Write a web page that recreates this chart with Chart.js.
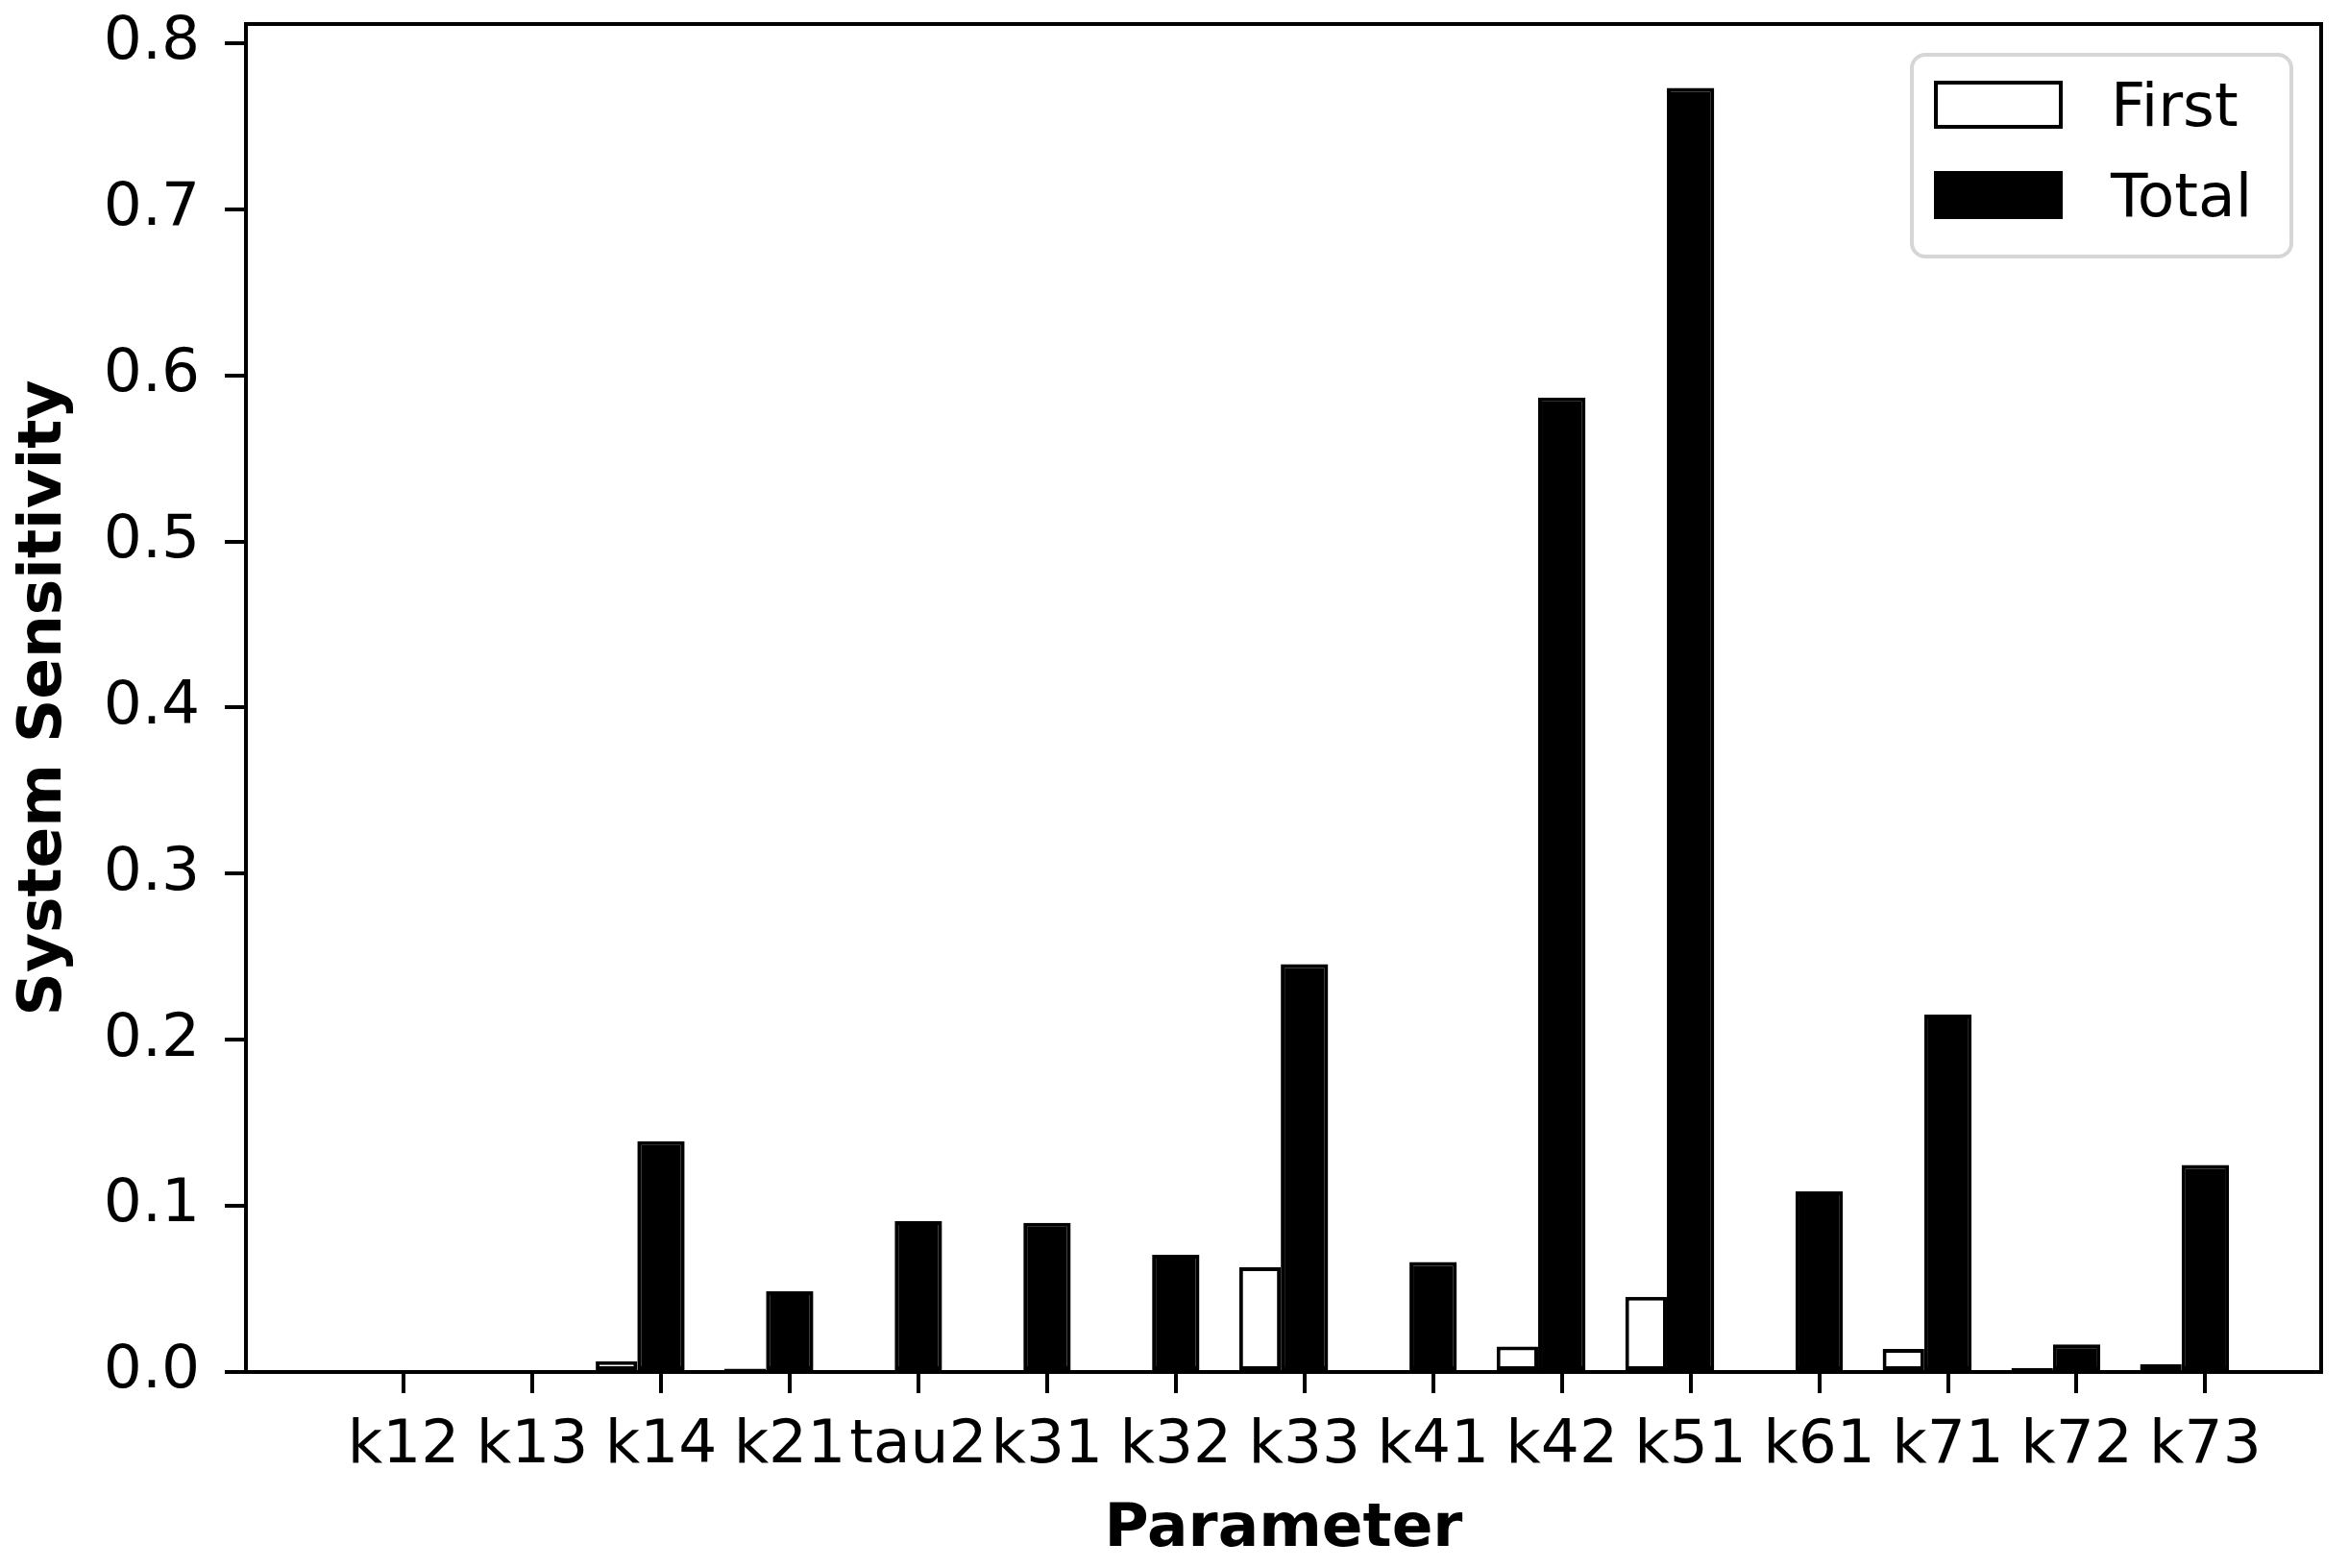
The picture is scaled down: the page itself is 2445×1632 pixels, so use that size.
<!DOCTYPE html>
<html>
<head>
<meta charset="utf-8">
<title>System Sensitivity</title>
<script src="https://cdn.jsdelivr.net/npm/chart.js@4.4.1/dist/chart.umd.min.js"></script>
<style>
  html, body { margin: 0; padding: 0; background: #fff; }
  #wrap { width: 2445px; height: 1632px; position: relative; }
</style>
</head>
<body>
<div id="wrap"><canvas id="sensChart"></canvas></div>
<script>
// data
const params = ['k12', 'k13', 'k14', 'k21', 'tau2', 'k31', 'k32', 'k33', 'k41', 'k42', 'k51', 'k61', 'k71', 'k72', 'k73'];
const firstOrder = [0.0003, 0.0003, 0.0065, 0.002, 0.001, 0.0012, 0.0003, 0.063, 0.0002, 0.0154, 0.0453, 0.0002, 0.0139, 0.0025, 0.0048];
const totalOrder = [0.0005, 0.0005, 0.139, 0.0486, 0.0908, 0.0898, 0.0705, 0.2455, 0.0662, 0.5866, 0.773, 0.1087, 0.2152, 0.0167, 0.1247];
const seriesNames = ['First', 'Total'];

const FONT = 'DejaVu Sans';
const FS = 63;
const PAIR_SHIFT = 0.3455; // first-order bar sits just left of the tick

Chart.defaults.font.family = FONT;
Chart.defaults.color = '#000';

function roundRectPath(ctx, x, y, w, h, r) {
    ctx.beginPath();
    ctx.moveTo(x + r, y);
    ctx.arcTo(x + w, y, x + w, y + h, r);
    ctx.arcTo(x + w, y + h, x, y + h, r);
    ctx.arcTo(x, y + h, x, y, r);
    ctx.arcTo(x, y, x + w, y, r);
    ctx.closePath();
}

// box around the plot (matplotlib spines)
const frame = {
    id: 'frame',
    afterDatasetsDraw(chart) {
        const { ctx, chartArea: a } = chart;
        ctx.save();
        ctx.strokeStyle = '#000';
        ctx.lineWidth = 4;
        ctx.strokeRect(a.left, a.top, a.right - a.left, a.bottom - a.top);
        ctx.restore();
    }
};

// legend in the upper right corner of the plot
const boxLegend = {
    id: 'boxLegend',
    afterDraw(chart) {
        const { ctx, chartArea: a } = chart;
        const w = 395, h = 210;
        const x = a.right - 31 - w;
        const y = a.top + 32;
        ctx.save();
        roundRectPath(ctx, x, y, w, h, 14);
        ctx.fillStyle = 'rgba(255,255,255,0.8)';
        ctx.fill();
        ctx.lineWidth = 4;
        ctx.strokeStyle = '#d6d6d6';
        ctx.stroke();
        chart.data.datasets.forEach((ds, i) => {
            const sy = y + 27 + i * 94;
            ctx.fillStyle = ds.backgroundColor;
            ctx.fillRect(x + 23, sy, 134, 50);
            ctx.lineWidth = 4;
            ctx.strokeStyle = ds.borderColor;
            ctx.strokeRect(x + 25, sy + 2, 130, 46);
            ctx.fillStyle = '#000';
            ctx.font = FS + 'px "' + FONT + '"';
            ctx.textAlign = 'left';
            ctx.textBaseline = 'middle';
            ctx.fillText(ds.label, x + 207, sy + 31);
        });
        ctx.restore();
    }
};

const ctx = document.getElementById('sensChart').getContext('2d');
new Chart(ctx, {
    type: 'bar',
    data: {
        datasets: [
            {
                label: seriesNames[0],
                data: params.map((p, i) => ({ x: i - PAIR_SHIFT, y: firstOrder[i] })),
                backgroundColor: '#ffffff',
                borderColor: '#000000',
                borderWidth: 4,
                borderSkipped: false,
                barPercentage: 0.935,
                categoryPercentage: 1,
                grouped: false,
                order: 1
            },
            {
                label: seriesNames[1],
                data: params.map((p, i) => ({ x: i, y: totalOrder[i] })),
                backgroundColor: '#000000',
                borderColor: '#000000',
                borderWidth: 4,
                borderSkipped: false,
                barPercentage: 1.065,
                categoryPercentage: 1,
                grouped: false,
                order: 0
            }
        ]
    },
    options: {
        responsive: true,
        maintainAspectRatio: false,
        animation: false,
        layout: { padding: { top: 25, right: 29, bottom: 0, left: 0 } },
        plugins: {
            legend: { display: false },
            tooltip: { enabled: false }
        },
        scales: {
            x: {
                type: 'linear',
                min: -1.225,
                max: 14.9,
                offset: false,
                grid: { display: true, offset: false, drawOnChartArea: false, drawTicks: true, tickLength: 22, lineWidth: 4, color: '#000' },
                border: { display: true, color: '#000', width: 4 },
                ticks: {
                    stepSize: 1,
                    includeBounds: false,
                    autoSkip: false,
                    minRotation: 0,
                    maxRotation: 0,
                    padding: 18,
                    font: { size: FS },
                    color: '#000',
                    callback: (v) => params[v] ?? ''
                },
                afterBuildTicks: (axis) => {
                    axis.ticks = axis.ticks.filter(t => t.value >= 0 && t.value <= params.length - 1);
                },
                title: {
                    display: true,
                    text: 'Parameter',
                    font: { size: FS, weight: 'bold' },
                    color: '#000',
                    padding: { top: 0, bottom: 2 }
                },
                afterFit: (axis) => {
                    axis.height = 204;
                    axis.paddingLeft = 0;
                    axis.paddingRight = 0;
                }
            },
            y: {
                min: 0,
                max: 0.8115,
                grid: { display: true, drawOnChartArea: false, drawTicks: true, tickLength: 22, lineWidth: 4, color: '#000' },
                border: { display: true, color: '#000', width: 4 },
                ticks: {
                    stepSize: 0.1,
                    includeBounds: false,
                    padding: 26,
                    font: { size: FS },
                    color: '#000',
                    callback: (v) => v.toFixed(1)
                },
                title: {
                    display: true,
                    text: 'System Sensitivity',
                    font: { size: FS, weight: 'bold' },
                    color: '#000',
                    padding: { top: 9, bottom: 0 }
                },
                afterFit: (axis) => {
                    axis.width = 256;
                    axis.paddingTop = 0;
                    axis.paddingBottom = 0;
                }
            }
        }
    },
    plugins: [frame, boxLegend]
});
</script>
</body>
</html>
